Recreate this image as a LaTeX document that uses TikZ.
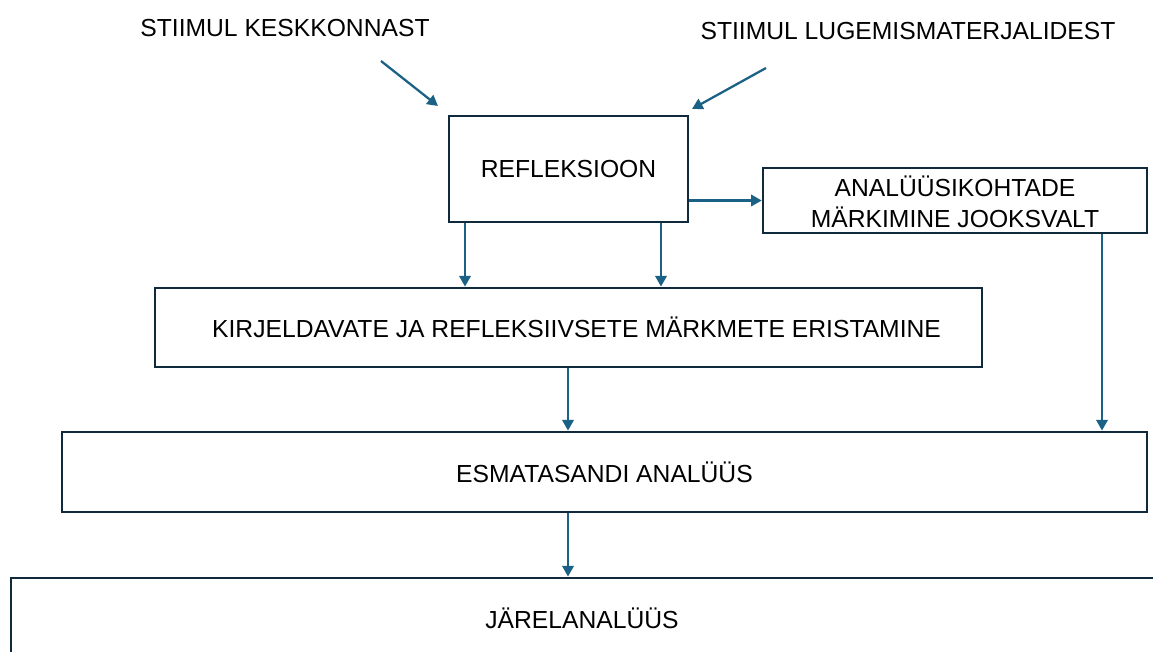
\documentclass[tikz,border=0pt]{standalone}
\usepackage{fontspec}
\setmainfont{Liberation Sans}
\usetikzlibrary{arrows.meta}
\definecolor{boxline}{HTML}{0E2A3B}
\definecolor{arr}{HTML}{1B6186}
\begin{document}
\begin{tikzpicture}[x=0.75pt,y=-0.75pt,
  box/.style={draw=boxline,line width=2.1pt,fill=white,inner sep=0pt,align=center,font=\fontsize{18.5}{23}\selectfont},
  lbl/.style={inner sep=0pt,font=\fontsize{18.5}{23}\selectfont},
  conn/.style={draw=arr,line width=1.7pt,-{Triangle[length=8pt,width=8.5pt]}}]
\useasboundingbox (0,0) rectangle (1153,652);
\node[lbl] (s1) at (285,28) {STIIMUL KESKKONNAST};
\node[lbl] (s2) at (908,31) {STIIMUL LUGEMISMATERJALIDEST};
\node[box,minimum width=239*0.75pt,minimum height=106*0.75pt] (refl) at (568.5,169) {REFLEKSIOON};
\node[box,line width=1.8pt,minimum width=384*0.75pt,minimum height=65*0.75pt] (anal) at (955,200.5) {};
\node[lbl,align=center,font=\fontsize{18.5}{23.25}\selectfont] (analt) at (955,202) {ANALÜÜSIKOHTADE\\MÄRKIMINE JOOKSVALT};
\node[box,minimum width=827*0.75pt,minimum height=79*0.75pt] (kirj) at (568.5,327.5) {\hspace*{12pt}KIRJELDAVATE JA REFLEKSIIVSETE MÄRKMETE ERISTAMINE};
\node[box,minimum width=1085*0.75pt,minimum height=80*0.75pt] (esma) at (604.5,472) {ESMATASANDI ANALÜÜS};
\node[box,minimum width=1160*0.75pt,minimum height=100*0.75pt] (jarel) at (591,628) {};
\node[lbl] (jarelt) at (582,618) {JÄRELANALÜÜS};
\coordinate (a1) at (381,61);
\coordinate (a1e) at (438,106);
\coordinate (a2) at (766,68);
\coordinate (a2e) at (692,109);
\draw[conn] (a1) -- (a1e);
\draw[conn] (a2) -- (a2e);
\draw[conn] (refl.east |- 0,200.5) -- (anal.west |- 0,200.5);
\draw[conn] (refl.south -| 465,0) -- (kirj.north -| 465,0);
\draw[conn] (refl.south -| 661,0) -- (kirj.north -| 661,0);
\draw[conn] (anal.south -| 1102,0) -- (esma.north -| 1102,0);
\draw[conn] (kirj.south -| 568,0) -- (esma.north -| 568,0);
\draw[conn] (esma.south -| 568,0) -- (jarel.north -| 568,0);
\end{tikzpicture}
\end{document}
